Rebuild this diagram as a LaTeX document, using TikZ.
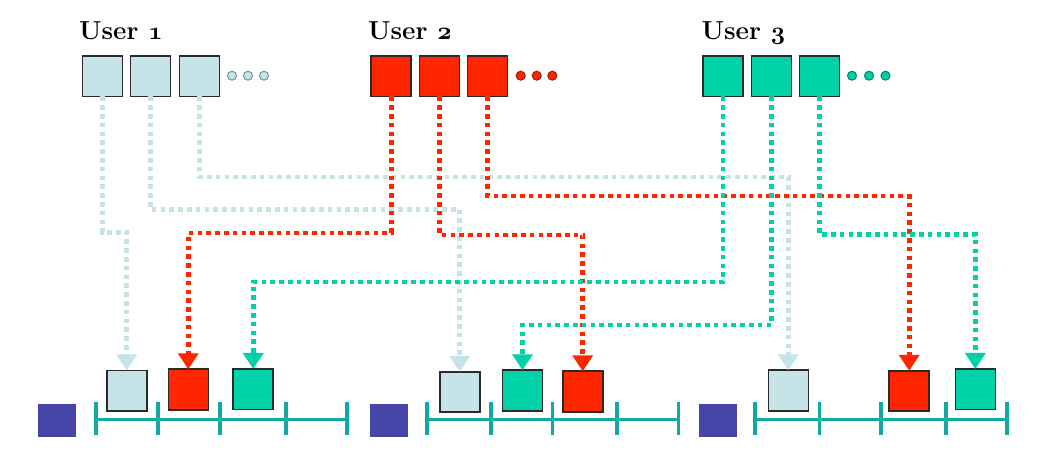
\documentclass[tikz,border=0pt]{standalone}
\usetikzlibrary{arrows.meta}
\definecolor{lbc}{HTML}{C6E4E8}
\definecolor{rdc}{HTML}{FF2600}
\definecolor{grc}{HTML}{00D2A8}
\definecolor{nvc}{HTML}{4646A8}
\definecolor{tlc}{HTML}{12A9A4}
\definecolor{bdc}{HTML}{2A2A2A}
\definecolor{lbd}{HTML}{6E9498}
\definecolor{rdd}{HTML}{A01800}
\definecolor{grd}{HTML}{00806A}
\newcommand\osdigit[1]{{\usefont{OML}{cmm}{b}{it}#1}}
\begin{document}
\begin{tikzpicture}[x=1pt,y=-1pt,
  sqbox/.style={draw=bdc,line width=1.6pt,minimum width=40pt,minimum height=40.5pt,inner sep=0pt,outer sep=0pt},
  lbbox/.style={sqbox,fill=lbc},
  rdbox/.style={sqbox,fill=rdc},
  grbox/.style={sqbox,fill=grc},
  smalldot/.style={circle,inner sep=0pt,minimum size=9pt,line width=1pt},
  conn/.style={line width=4.6pt,dash pattern=on 4.6pt off 4.2pt,-{Triangle[width=20pt,length=16pt]}},
  lbconn/.style={conn,draw=lbc},
  rdconn/.style={conn,draw=rdc},
  grconn/.style={conn,draw=grc},
  userlbl/.style={anchor=base west,inner sep=0pt,font=\fontsize{26}{30}\selectfont\bfseries},
  navysq/.style={fill=nvc,minimum width=38pt,minimum height=32.5pt,inner sep=0pt},
  tline/.style={draw=tlc,line width=3.6pt}
]
\useasboundingbox (0,0) rectangle (1040,473);

% labels
\node[userlbl] (l1) at (79,39.5) {User \osdigit{1}};
\node[userlbl] (l2) at (368,39.5) {User \osdigit{2}};
\node[userlbl] (l3) at (701.5,39.5) {User \osdigit{3}};

% top boxes
\node[lbbox] (u1a) at (102.5,76.2) {};
\node[lbbox] (u1b) at (150.5,76.2) {};
\node[lbbox] (u1c) at (199.5,76.2) {};
\node[rdbox] (u2a) at (391.2,76.2) {};
\node[rdbox] (u2b) at (439.5,76.2) {};
\node[rdbox] (u2c) at (487.5,76.2) {};
\node[grbox] (u3a) at (723,76.2) {};
\node[grbox] (u3b) at (771.4,76.2) {};
\node[grbox] (u3c) at (819.5,76.2) {};

% ellipsis dots
\foreach \x [count=\i] in {232,248,264} \node[smalldot,fill=lbc,draw=lbd] (d1\i) at (\x,75.7) {};
\foreach \x [count=\i] in {520.7,536.7,552.3} \node[smalldot,fill=rdc,draw=rdd] (d2\i) at (\x,75.7) {};
\foreach \x [count=\i] in {852,869,885.5} \node[smalldot,fill=grc,draw=grd] (d3\i) at (\x,75.7) {};

% bottom boxes
\node[lbbox] (g1lb) at (126.7,390.7) {};
\node[rdbox] (g1r) at (188.3,389.5) {};
\node[grbox] (g1g) at (253.2,389.2) {};
\node[lbbox] (g2lb) at (459.7,392) {};
\node[grbox] (g2g) at (522.5,390.5) {};
\node[rdbox] (g2r) at (582.7,391.5) {};
\node[lbbox] (g3lb) at (788.3,390.5) {};
\node[rdbox] (g3r) at (909.2,391) {};
\node[grbox] (g3g) at (975.3,389.2) {};

% navy squares
\node[navysq] (n1) at (56.7,420.5) {};
\node[navysq] (n2) at (389,420.5) {};
\node[navysq] (n3) at (717.5,420.5) {};

% timelines
\draw[tline] (95.7,419.3) -- (346.7,419.3);
\foreach \x in {95.7,158,220,285.7,346.7} \draw[tline] (\x,401.7) -- (\x,435);
\draw[tline] (426.7,419.3) -- (678.3,419.3);
\foreach \x in {426.7,490.7,552.3,616.7,678.3} \draw[tline] (\x,401.7) -- (\x,435);
\draw[tline] (755,419.3) -- (1006.7,419.3);
\foreach \x in {755,819.3,880.7,945.7,1006.7} \draw[tline] (\x,401.7) -- (\x,435);

% connectors: light blue
\draw[lbconn] (u1a.south) -- (u1a.south |- 0,232.5) -| (g1lb.north);
\draw[lbconn] (u1b.south) -- (u1b.south |- 0,209.5) -| (g2lb.north);
\draw[lbconn] (u1c.south) -- (u1c.south |- 0,177) -| (g3lb.north);
% red
\draw[rdconn] (u2a.south) -- (u2a.south |- 0,233) -| (g1r.north);
\draw[rdconn] (u2b.south) -- (u2b.south |- 0,235) -| (g2r.north);
\draw[rdconn] (u2c.south) -- (u2c.south |- 0,196) -| (g3r.north);
% green
\draw[grconn] (u3a.south) -- (u3a.south |- 0,282) -| (g1g.north);
\draw[grconn] (u3b.south) -- (u3b.south |- 0,325) -| (g2g.north);
\draw[grconn] (u3c.south) -- (u3c.south |- 0,234.5) -| (g3g.north);
\end{tikzpicture}
\end{document}
